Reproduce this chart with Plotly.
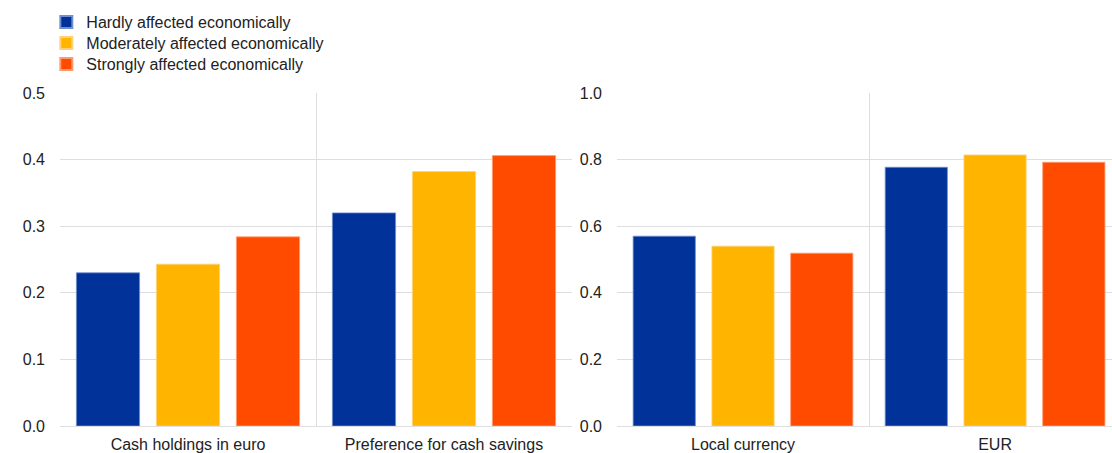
import plotly.graph_objects as go

series_names = ["Hardly affected economically", "Moderately affected economically", "Strongly affected economically"]
colors = ["#003299", "#FFB400", "#FF4B00"]
line_colors = ["#6f8fd0", "#ffd27a", "#ff9a70"]

left_categories = ["Cash holdings in euro", "Preference for cash savings"]
left_values = [
    [0.230, 0.320],
    [0.243, 0.382],
    [0.284, 0.406],
]

right_categories = ["Local currency", "EUR"]
right_values = [
    [0.570, 0.777],
    [0.540, 0.814],
    [0.519, 0.792],
]

W, H = 1112, 453
ml, mr, mt, mb = 60, 0, 93, 27
pw = W - ml - mr
ph = H - mt - mb

legend_keys = ["legend", "legend2", "legend3"]
row_centers = [22, 43, 64]

fig = go.Figure()
for i, name in enumerate(series_names):
    fig.add_trace(go.Bar(
        x=left_categories, y=left_values[i], name=name,
        marker=dict(color=colors[i], line=dict(color=line_colors[i], width=0.8)),
        xaxis="x", yaxis="y", legend=legend_keys[i], showlegend=True,
    ))
    fig.add_trace(go.Bar(
        x=right_categories, y=right_values[i], name=name,
        marker=dict(color=colors[i], line=dict(color=line_colors[i], width=0.8)),
        xaxis="x2", yaxis="y2", showlegend=False,
    ))

grid = "#dedede"
font = dict(family="Liberation Sans, Arial, sans-serif", size=16, color="#222222")

left_end = (572 - ml) / pw
right_start = (617 - ml) / pw

legends = {}
for key, c in zip(legend_keys, row_centers):
    top = c - 17
    legends[key] = dict(x=-0.013, xanchor="left", y=1 + (mt - top) / ph, yanchor="top",
                        font=dict(size=16, color="#222222"),
                        bgcolor="rgba(0,0,0,0)", itemsizing="constant")

fig.update_layout(
    width=W, height=H,
    margin=dict(l=ml, r=mr, t=mt, b=mb),
    paper_bgcolor="white", plot_bgcolor="white",
    font=font,
    barmode="group", bargap=0.0625, bargroupgap=0.21,
    xaxis=dict(domain=[0, left_end], anchor="y", tickson="boundaries",
               showgrid=True, gridcolor=grid, gridwidth=1, ticks="",
               showline=False, zeroline=False, range=[-0.5, 1.5], ticklabelstandoff=7),
    yaxis=dict(domain=[0, 1], anchor="x", range=[0, 0.5], dtick=0.1, tickformat=".1f",
               showgrid=True, gridcolor=grid, gridwidth=1, zeroline=True,
               zerolinecolor=grid, zerolinewidth=1, ticks="", ticklabelstandoff=14),
    xaxis2=dict(domain=[right_start, 1], anchor="y2", tickson="boundaries",
                showgrid=True, gridcolor=grid, gridwidth=1, ticks="",
                showline=False, zeroline=False, range=[-0.5, 1.464], ticklabelstandoff=7),
    yaxis2=dict(domain=[0, 1], anchor="x2", range=[0, 1.0], dtick=0.2, tickformat=".1f",
                showgrid=True, gridcolor=grid, gridwidth=1, zeroline=True,
                zerolinecolor=grid, zerolinewidth=1, ticks="", ticklabelstandoff=14),
    **legends,
)

fig.write_html("out.html", config={"displayModeBar": False},
               post_script="document.body.style.margin='0';document.body.style.overflow='hidden';")
